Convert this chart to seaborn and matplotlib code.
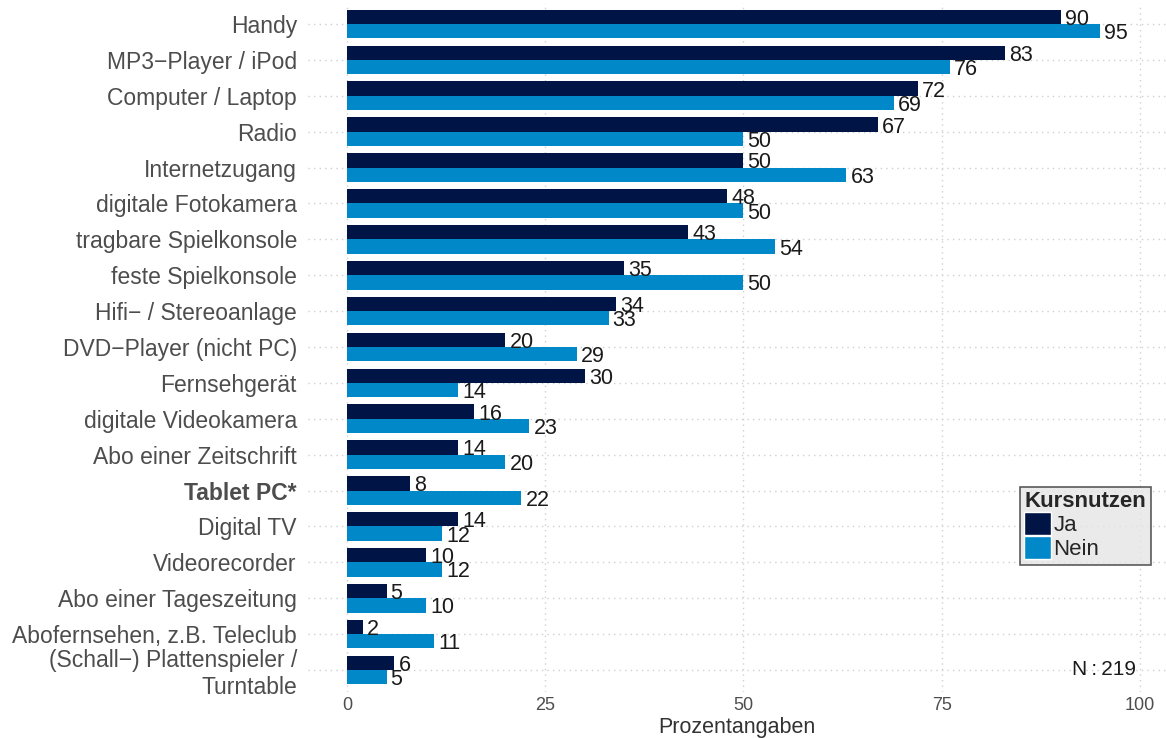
import pandas as pd
import seaborn as sns
import matplotlib.pyplot as plt
from matplotlib.patches import Patch

geraete = [
    "Handy", "MP3\u2212Player / iPod", "Computer / Laptop", "Radio",
    "Internetzugang", "digitale Fotokamera", "tragbare Spielkonsole",
    "feste Spielkonsole", "Hifi\u2212 / Stereoanlage", "DVD\u2212Player (nicht PC)",
    "Fernsehgerät", "digitale Videokamera", "Abo einer Zeitschrift",
    "Tablet PC*", "Digital TV", "Videorecorder", "Abo einer Tageszeitung",
    "Abofernsehen, z.B. Teleclub", "(Schall\u2212) Plattenspieler /\nTurntable",
]
ja = [90, 83, 72, 67, 50, 48, 43, 35, 34, 20, 30, 16, 14, 8, 14, 10, 5, 2, 6]
nein = [95, 76, 69, 50, 63, 50, 54, 50, 33, 29, 14, 23, 20, 22, 12, 12, 10, 11, 5]
gruppen = ["Ja", "Nein"]
farben = ["#001446", "#0088C9"]

df = pd.DataFrame({
    "geraet": geraete * 2,
    "wert": ja + nein,
    "kurs": ["Ja"] * len(ja) + ["Nein"] * len(nein),
})

sns.set_style("white")
plt.rcParams["font.family"] = ["Liberation Sans", "DejaVu Sans"]

fig = plt.figure(figsize=(11.66, 7.38), dpi=100)
ax = fig.add_axes([308 / 1166, 46.5 / 738, 1 - 308 / 1166, (691.5 - 2.5) / 738])

sns.barplot(data=df, x="wert", y="geraet", hue="kurs", hue_order=gruppen,
            palette=farben, orient="h", width=0.8, saturation=1, linewidth=0,
            legend=False, ax=ax, errorbar=None)

for cont in ax.containers:
    labels = ax.bar_label(cont, fmt="%g", padding=3, fontsize=15.5, color="#1a1a1a")
    for t in labels:
        t.set_va("center_baseline")

n = len(geraete)
ax.set_ylim(n - 1 + 0.6, -0.6)
ax.set_xlim(-4.9, 103.3)
ax.set_xticks([0, 25, 50, 75, 100])
ax.grid(True, color="#d0d0d0", linestyle=(0, (1, 3)), linewidth=1)
ax.set_axisbelow(True)
for s in ax.spines.values():
    s.set_visible(False)
ax.tick_params(axis="y", length=0, pad=8, labelsize=16.5, labelcolor="#4d4d4d")
ax.tick_params(axis="x", length=0, pad=4, labelsize=13, labelcolor="#4d4d4d")
for lab in ax.get_yticklabels():
    if lab.get_text() == "Tablet PC*":
        lab.set_fontweight("bold")
ax.set_ylabel("")
ax.set_xlabel("Prozentangaben", fontsize=15.5, color="#333333", labelpad=2)

ax.text(99.5, n - 1, "N\u2009:\u2009219", fontsize=15, color="#1a1a1a",
        ha="right", va="center")

handles = [Patch(facecolor=c, edgecolor="white") for c in farben]
leg = ax.legend(handles, gruppen, title="Kursnutzen", loc="upper left",
                bbox_to_anchor=(1020 / 1166, 1 - 487 / 738), bbox_transform=fig.transFigure,
                fontsize=16, title_fontproperties={"weight": "bold", "size": 16},
                frameon=True, fancybox=False, handlelength=1.2, handleheight=1.2,
                handletextpad=0.1, labelspacing=0.0, borderpad=0.2,
                borderaxespad=0, alignment="left")
leg.get_frame().set_facecolor("#e5e5e5")
leg.get_frame().set_edgecolor("#333333")
leg.get_frame().set_linewidth(1.2)

fig.savefig("out.png", dpi=100)
